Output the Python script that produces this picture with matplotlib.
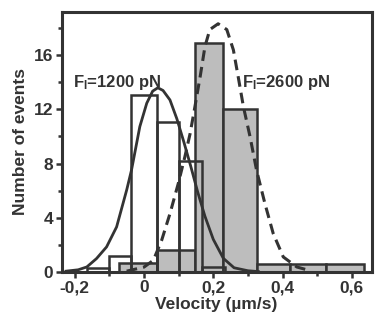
# Velocity histograms at two loading forces, with fitted curves
import numpy as np
import matplotlib.pyplot as plt

plt.rcParams['font.family'] = ['Liberation Sans', 'DejaVu Sans']
plt.rcParams['font.weight'] = 'bold'
plt.rcParams['mathtext.fontset'] = 'custom'
plt.rcParams['mathtext.rm'] = 'Liberation Sans:bold'
plt.rcParams['mathtext.bf'] = 'Liberation Sans:bold'

# open histogram, F = 1200 pN
white_edges = [-0.165, -0.100, -0.037, 0.037, 0.100, 0.168, 0.235]
white_counts = [0.3, 1.15, 13.05, 11.1, 8.2, 0.35]

# grey histogram, F = 2600 pN
grey_edges = [-0.071, 0.037, 0.147, 0.229, 0.325, 0.42, 0.525, 0.635]
grey_counts = [0.68, 1.6, 16.9, 12.0, 0.55, 0.55, 0.55]

# solid curve (1200 pN)
solid_x = [-0.225, -0.19, -0.165, -0.137, -0.108, -0.079, -0.05, -0.036, -0.012,
           0.008, 0.025, 0.04, 0.055, 0.075, 0.095, 0.115, 0.135, 0.155, 0.176,
           0.2, 0.229, 0.26, 0.3, 0.33]
solid_y = [0.05, 0.15, 0.36, 0.98, 1.84, 3.32, 6.04, 7.52, 10.73,
           12.46, 13.35, 13.6, 13.4, 12.7, 11.3, 9.6, 7.8, 5.9, 4.1,
           2.4, 1.0, 0.3, 0.08, 0.02]

# dashed curve (2600 pN)
dashed_x = [-0.05, 0.0, 0.027, 0.051, 0.075, 0.099, 0.118, 0.133, 0.147, 0.162,
            0.176, 0.19, 0.214, 0.239, 0.258, 0.272, 0.287, 0.306, 0.325, 0.349,
            0.373, 0.402, 0.441, 0.48]
dashed_y = [0.05, 0.35, 0.85, 2.33, 4.3, 6.53, 8.5, 10.2, 12.2, 14.4,
            16.65, 17.9, 18.33, 17.9, 16.4, 14.4, 12.2, 10.0, 7.5, 5.05,
            2.83, 1.1, 0.36, 0.08]

xticks = [-0.2, 0, 0.2, 0.4, 0.6]
xticklabels = ['-0,2', '0', '0,2', '0,4', '0,6']
yticks = [0, 4, 8, 12, 16]

dark = '#333333'

fig = plt.figure(figsize=(3.75, 3.24), dpi=100)
ax = fig.add_axes([0.1645, 0.161, 0.8265, 0.802])

ax.bar(grey_edges[:-1], grey_counts, width=np.diff(grey_edges), align='edge',
       color='#bdbdbd', edgecolor=dark, linewidth=1.8, zorder=1)
ax.bar(white_edges[:-1], white_counts, width=np.diff(white_edges), align='edge',
       fill=False, edgecolor=dark, linewidth=1.8, zorder=2)

ax.plot(solid_x, solid_y, color=dark, linewidth=2.0, zorder=3)
ax.plot(dashed_x, dashed_y, color=dark, linewidth=2.2, dashes=(3.5, 2), zorder=3)

ax.text(-0.205, 14.0, r'$\mathrm{F_l}$=1200 pN', fontsize=12, color=dark,
        va='center', ha='left')
ax.text(0.284, 14.0, r'$\mathrm{F_l}$=2600 pN', fontsize=12, color=dark,
        va='center', ha='left')

ax.set_xlim(-0.2375, 0.657)
ax.set_ylim(0, 19.2)
ax.set_xticks(xticks)
ax.set_xticklabels(xticklabels)
ax.set_xticks(np.arange(-0.2, 0.65, 0.1), minor=True)
ax.set_yticks(yticks)
ax.set_yticks([2, 6, 10, 14, 18], minor=True)

ax.tick_params(which='both', direction='out', width=1.8, color=dark,
               labelsize=12.5, labelcolor=dark, pad=2)
ax.tick_params(which='major', length=4)
ax.tick_params(which='minor', length=3)
for s in ax.spines.values():
    s.set_linewidth(2.2)
    s.set_color(dark)

ax.set_xlabel('Velocity (µm/s)', fontsize=12.5, fontweight='bold', color=dark,
              labelpad=1)
ax.set_ylabel('Number of events', fontsize=12.5, fontweight='bold', color=dark,
              labelpad=4)

fig.savefig('out.png', dpi=100)
